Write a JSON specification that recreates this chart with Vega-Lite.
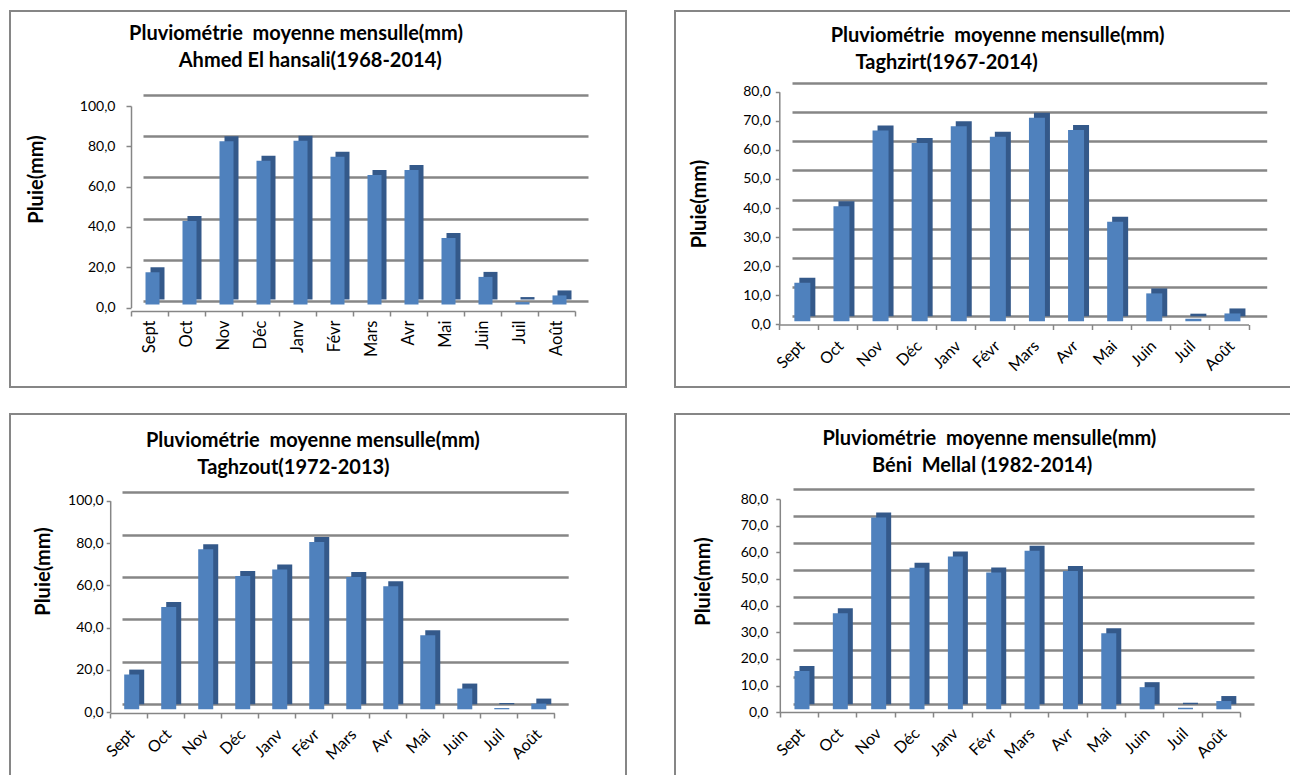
{
  "$schema": "https://vega.github.io/schema/vega-lite/v6.json",
  "background": "white",
  "padding": {"left": 1, "top": 10, "right": 0, "bottom": 0},
  "bounds": "flush",
  "columns": 2,
  "spacing": {"row": 27, "column": 49},
  "config": {
    "font": "Lato",
    "view": {"stroke": "#868686", "strokeWidth": 2},
    "axis": {"labelColor": "black", "titleColor": "black", "domainColor": "#868686", "tickColor": "#868686", "domainWidth": 1.5, "tickWidth": 1.5}
  },
  "datasets": {
    "ahmed": [
      {"mois": "Sept", "pluie": 16.0}, {"mois": "Oct", "pluie": 41.5}, {"mois": "Nov", "pluie": 81.0}, {"mois": "Déc", "pluie": 71.3},
      {"mois": "Janv", "pluie": 81.3}, {"mois": "Févr", "pluie": 73.3}, {"mois": "Mars", "pluie": 64.3}, {"mois": "Avr", "pluie": 66.8},
      {"mois": "Mai", "pluie": 33.0}, {"mois": "Juin", "pluie": 13.7}, {"mois": "Juil", "pluie": 1.2}, {"mois": "Août", "pluie": 4.5}
    ],
    "taghzirt": [
      {"mois": "Sept", "pluie": 13.3}, {"mois": "Oct", "pluie": 39.6}, {"mois": "Nov", "pluie": 65.6}, {"mois": "Déc", "pluie": 61.3},
      {"mois": "Janv", "pluie": 67.1}, {"mois": "Févr", "pluie": 63.5}, {"mois": "Mars", "pluie": 70.0}, {"mois": "Avr", "pluie": 65.8},
      {"mois": "Mai", "pluie": 34.2}, {"mois": "Juin", "pluie": 9.6}, {"mois": "Juil", "pluie": 0.9}, {"mois": "Août", "pluie": 2.7}
    ],
    "taghzout": [
      {"mois": "Sept", "pluie": 16.4}, {"mois": "Oct", "pluie": 48.3}, {"mois": "Nov", "pluie": 75.6}, {"mois": "Déc", "pluie": 63.0},
      {"mois": "Janv", "pluie": 66.1}, {"mois": "Févr", "pluie": 79.1}, {"mois": "Mars", "pluie": 62.5}, {"mois": "Avr", "pluie": 58.1},
      {"mois": "Mai", "pluie": 35.0}, {"mois": "Juin", "pluie": 9.8}, {"mois": "Juil", "pluie": 0.6}, {"mois": "Août", "pluie": 2.7}
    ],
    "benimellal": [
      {"mois": "Sept", "pluie": 14.4}, {"mois": "Oct", "pluie": 36.0}, {"mois": "Nov", "pluie": 71.9}, {"mois": "Déc", "pluie": 53.1},
      {"mois": "Janv", "pluie": 57.3}, {"mois": "Févr", "pluie": 51.3}, {"mois": "Mars", "pluie": 59.5}, {"mois": "Avr", "pluie": 51.9},
      {"mois": "Mai", "pluie": 28.5}, {"mois": "Juin", "pluie": 8.3}, {"mois": "Juil", "pluie": 0.6}, {"mois": "Août", "pluie": 3.1}
    ]
  },
  "concat": [
    {
      "width": 616, "height": 376,
      "data": {"name": "ahmed"},
      "title": {"text": ["Pluviométrie\u00a0 moyenne mensulle(mm)", "\u200b\u00a0\u00a0\u00a0\u00a0\u00a0\u00a0Ahmed El hansali(1968-2014)"], "anchor": "middle", "dx": -22, "offset": -60, "baseline": "top", "lineHeight": 27, "fontSize": 20, "fontWeight": "bold", "color": "black"},
      "layer": [
        {
          "mark": {"type": "bar", "opacity": 0},
          "encoding": {
            "x": {"field": "mois", "type": "nominal", "sort": null, "scale": {"range": [133, 578], "paddingInner": 0, "paddingOuter": 0}, "axis": null},
            "y": {"field": "pluie", "type": "quantitative", "scale": {"domain": [0, 100], "range": [290, 84]}, "axis": {"orient": "left", "values": [0, 20, 40, 60, 80, 100], "labels": false, "ticks": false, "domain": false, "title": null, "grid": true, "gridColor": "#868686", "gridWidth": 2.5}}
          }
        },
        {
          "mark": {"type": "bar", "width": 14, "xOffset": 8, "yOffset": -8, "y2Offset": -8, "color": "#34598a"},
          "encoding": {
            "x": {"field": "mois", "type": "nominal", "sort": null, "scale": {"range": [121, 565], "paddingInner": 0, "paddingOuter": 0}, "axis": null},
            "y": {"field": "pluie", "type": "quantitative", "scale": {"domain": [0, 100], "range": [296.5, 95]}, "axis": null}
          }
        },
        {
          "mark": {"type": "bar", "width": 14, "xOffset": 3, "yOffset": -3, "y2Offset": -3, "color": "#4f81bd"},
          "encoding": {
            "x": {"field": "mois", "type": "nominal", "sort": null, "scale": {"range": [121, 565], "paddingInner": 0, "paddingOuter": 0}, "axis": {"orient": "bottom", "offset": -76, "title": null, "labelAngle": -90, "labelFontSize": 16.5, "labelPadding": 4, "tickBand": "extent", "tickSize": 5, "grid": false}},
            "y": {"field": "pluie", "type": "quantitative", "scale": {"domain": [0, 100], "range": [296.5, 95]}, "axis": {"orient": "left", "offset": -121, "values": [0, 20, 40, 60, 80, 100], "labelExpr": "replace(format(datum.value, '.1f'), '.', ',')", "labelFontSize": 14, "labelPadding": 11, "tickSize": 5, "grid": false, "title": "Pluie(mm)", "titleFontSize": 20, "titleFontWeight": "bold", "titleX": -95, "titleY": 168, "titleBaseline": "middle"}}
          }
        }
      ],
      "resolve": {"scale": {"x": "independent", "y": "independent"}, "axis": {"x": "independent", "y": "independent"}}
    },
    {
      "width": 620, "height": 376,
      "data": {"name": "taghzirt"},
      "title": {"text": ["Pluviométrie\u00a0 moyenne mensulle(mm)", "Taghzirt(1967-2014)\u00a0\u00a0\u00a0\u00a0\u00a0\u00a0\u00a0\u00a0\u00a0\u00a0\u00a0\u00a0\u00a0\u00a0\u00a0\u00a0\u00a0\u00a0\u00a0\u00a0\u00a0\u200b"], "anchor": "middle", "dx": 12.6, "offset": -62, "baseline": "top", "lineHeight": 27, "fontSize": 20, "fontWeight": "bold", "color": "black"},
      "layer": [
        {
          "mark": {"type": "bar", "opacity": 0},
          "encoding": {
            "x": {"field": "mois", "type": "nominal", "sort": null, "scale": {"range": [117, 591.7], "paddingInner": 0, "paddingOuter": 0}, "axis": null},
            "y": {"field": "pluie", "type": "quantitative", "scale": {"domain": [0, 80], "range": [305, 72]}, "axis": {"orient": "left", "values": [0, 10, 20, 30, 40, 50, 60, 70, 80], "labels": false, "ticks": false, "domain": false, "title": null, "grid": true, "gridColor": "#868686", "gridWidth": 2.5}}
          }
        },
        {
          "mark": {"type": "bar", "width": 16, "xOffset": 8.5, "yOffset": -8, "y2Offset": -8, "color": "#34598a"},
          "encoding": {
            "x": {"field": "mois", "type": "nominal", "sort": null, "scale": {"range": [104.3, 573.5], "paddingInner": 0, "paddingOuter": 0}, "axis": null},
            "y": {"field": "pluie", "type": "quantitative", "scale": {"domain": [0, 80], "range": [313.3, 80.7]}, "axis": null}
          }
        },
        {
          "mark": {"type": "bar", "width": 16, "xOffset": 3.5, "yOffset": -3, "y2Offset": -3, "color": "#4f81bd"},
          "encoding": {
            "x": {"field": "mois", "type": "nominal", "sort": null, "scale": {"range": [104.3, 573.5], "paddingInner": 0, "paddingOuter": 0}, "axis": {"orient": "bottom", "offset": -62.5, "title": null, "labelAngle": -45, "labelFontSize": 16, "labelPadding": 8, "labelOffset": -3, "tickBand": "extent", "tickSize": 5, "grid": false}},
            "y": {"field": "pluie", "type": "quantitative", "scale": {"domain": [0, 80], "range": [313.3, 80.7]}, "axis": {"orient": "left", "offset": -104.3, "values": [0, 10, 20, 30, 40, 50, 60, 70, 80], "labelExpr": "replace(format(datum.value, '.1f'), '.', ',')", "labelFontSize": 14, "labelPadding": 5, "tickSize": 4, "grid": false, "title": "Pluie(mm)", "titleFontSize": 20, "titleFontWeight": "bold", "titleX": -80.3, "titleY": 192.5, "titleBaseline": "middle"}}
          }
        }
      ],
      "resolve": {"scale": {"x": "independent", "y": "independent"}, "axis": {"x": "independent", "y": "independent"}}
    },
    {
      "width": 616, "height": 380,
      "data": {"name": "taghzout"},
      "title": {"text": ["Pluviométrie\u00a0 moyenne mensulle(mm)", "Taghzout(1972-2013)\u00a0\u00a0\u00a0\u00a0\u00a0\u00a0\u00a0\u00a0\u200b"], "anchor": "middle", "dx": -5.1, "offset": -64, "baseline": "top", "lineHeight": 27, "fontSize": 20, "fontWeight": "bold", "color": "black"},
      "layer": [
        {
          "mark": {"type": "bar", "opacity": 0},
          "encoding": {
            "x": {"field": "mois", "type": "nominal", "sort": null, "scale": {"range": [112, 558.2], "paddingInner": 0, "paddingOuter": 0}, "axis": null},
            "y": {"field": "pluie", "type": "quantitative", "scale": {"domain": [0, 100], "range": [290, 78.3]}, "axis": {"orient": "left", "values": [0, 20, 40, 60, 80, 100], "labels": false, "ticks": false, "domain": false, "title": null, "grid": true, "gridColor": "#868686", "gridWidth": 2.5}}
          }
        },
        {
          "mark": {"type": "bar", "width": 15, "xOffset": 8, "yOffset": -8, "y2Offset": -8, "color": "#34598a"},
          "encoding": {
            "x": {"field": "mois", "type": "nominal", "sort": null, "scale": {"range": [100.2, 544.3], "paddingInner": 0, "paddingOuter": 0}, "axis": null},
            "y": {"field": "pluie", "type": "quantitative", "scale": {"domain": [0, 100], "range": [298.3, 86.7]}, "axis": null}
          }
        },
        {
          "mark": {"type": "bar", "width": 15, "xOffset": 3, "yOffset": -3, "y2Offset": -3, "color": "#4f81bd"},
          "encoding": {
            "x": {"field": "mois", "type": "nominal", "sort": null, "scale": {"range": [100.2, 544.3], "paddingInner": 0, "paddingOuter": 0}, "axis": {"orient": "bottom", "offset": -81, "title": null, "labelAngle": -45, "labelFontSize": 16, "labelPadding": 8, "labelOffset": -3, "tickBand": "extent", "tickSize": 5, "grid": false}},
            "y": {"field": "pluie", "type": "quantitative", "scale": {"domain": [0, 100], "range": [298.3, 86.7]}, "axis": {"orient": "left", "offset": -100.2, "values": [0, 20, 40, 60, 80, 100], "labelExpr": "replace(format(datum.value, '.1f'), '.', ',')", "labelFontSize": 14, "labelPadding": 3, "tickSize": 4, "grid": false, "title": "Pluie(mm)", "titleFontSize": 20, "titleFontWeight": "bold", "titleX": -67.2, "titleY": 157, "titleBaseline": "middle"}}
          }
        }
      ],
      "resolve": {"scale": {"x": "independent", "y": "independent"}, "axis": {"x": "independent", "y": "independent"}}
    },
    {
      "width": 620, "height": 380,
      "data": {"name": "benimellal"},
      "title": {"text": ["Pluviométrie\u00a0 moyenne mensulle(mm)", "Béni\u00a0 Mellal (1982-2014)\u00a0\u00a0\u00a0\u200b"], "anchor": "middle", "dx": 4.4, "offset": -62, "baseline": "top", "lineHeight": 27, "fontSize": 20, "fontWeight": "bold", "color": "black"},
      "layer": [
        {
          "mark": {"type": "bar", "opacity": 0},
          "encoding": {
            "x": {"field": "mois", "type": "nominal", "sort": null, "scale": {"range": [118, 579], "paddingInner": 0, "paddingOuter": 0}, "axis": null},
            "y": {"field": "pluie", "type": "quantitative", "scale": {"domain": [0, 80], "range": [290, 75]}, "axis": {"orient": "left", "values": [0, 10, 20, 30, 40, 50, 60, 70, 80], "labels": false, "ticks": false, "domain": false, "title": null, "grid": true, "gridColor": "#868686", "gridWidth": 2.5}}
          }
        },
        {
          "mark": {"type": "bar", "width": 15, "xOffset": 8, "yOffset": -8, "y2Offset": -8, "color": "#34598a"},
          "encoding": {
            "x": {"field": "mois", "type": "nominal", "sort": null, "scale": {"range": [104.8, 565], "paddingInner": 0, "paddingOuter": 0}, "axis": null},
            "y": {"field": "pluie", "type": "quantitative", "scale": {"domain": [0, 80], "range": [298.3, 85]}, "axis": null}
          }
        },
        {
          "mark": {"type": "bar", "width": 15, "xOffset": 3, "yOffset": -3, "y2Offset": -3, "color": "#4f81bd"},
          "encoding": {
            "x": {"field": "mois", "type": "nominal", "sort": null, "scale": {"range": [104.8, 565], "paddingInner": 0, "paddingOuter": 0}, "axis": {"orient": "bottom", "offset": -82, "title": null, "labelAngle": -45, "labelFontSize": 16, "labelPadding": 8, "labelOffset": -3, "tickBand": "extent", "tickSize": 5, "grid": false}},
            "y": {"field": "pluie", "type": "quantitative", "scale": {"domain": [0, 80], "range": [298.3, 85]}, "axis": {"orient": "left", "offset": -104.8, "values": [0, 10, 20, 30, 40, 50, 60, 70, 80], "labelExpr": "replace(format(datum.value, '.1f'), '.', ',')", "labelFontSize": 14, "labelPadding": 8, "tickSize": 4, "grid": false, "title": "Pluie(mm)", "titleFontSize": 20, "titleFontWeight": "bold", "titleX": -76.8, "titleY": 167, "titleBaseline": "middle"}}
          }
        }
      ],
      "resolve": {"scale": {"x": "independent", "y": "independent"}, "axis": {"x": "independent", "y": "independent"}}
    }
  ]
}
